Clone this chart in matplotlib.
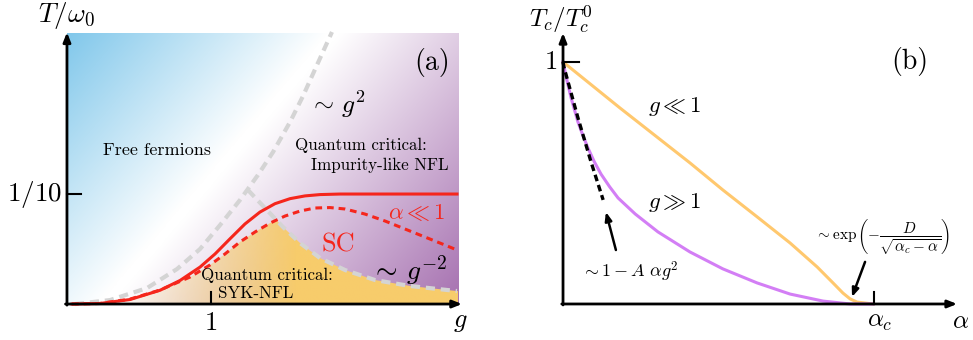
import numpy as np
import matplotlib.pyplot as plt
from matplotlib.patches import Polygon

plt.rcParams['mathtext.fontset'] = 'cm'
plt.rcParams['font.family'] = 'serif'
plt.rcParams['font.serif'] = ['cmr10']
plt.rcParams['axes.unicode_minus'] = False

# --- panel (a): phase diagram in the (g, T/w0) plane ---
g_sq = [0.056, 0.299, 0.556, 0.764, 0.924, 1.063, 1.201, 1.326, 1.431, 1.549, 1.639, 1.736, 1.840]
T_sq = [0.000, 0.0036, 0.0145, 0.0318, 0.050, 0.0718, 0.0945, 0.1173, 0.1382, 0.1655, 0.1891,
        0.2173, 0.2473]

g_inv = [1.257, 1.375, 1.500, 1.618, 1.757, 1.931, 2.139, 2.382, 2.708]
T_inv = [0.1036, 0.0873, 0.070, 0.0555, 0.0418, 0.0309, 0.0218, 0.0164, 0.0118]

g_sc = [0.035, 0.229, 0.438, 0.646, 0.785, 0.924, 1.028, 1.132, 1.236, 1.340, 1.444, 1.549,
        1.653, 1.757, 1.896, 2.708]
T_sc = [0.000, 0.0005, 0.0041, 0.0125, 0.0214, 0.0336, 0.0455, 0.0593, 0.0728, 0.0836, 0.0912,
        0.0958, 0.0983, 0.0995, 0.100, 0.100]

g_sc_small = [0.035, 0.229, 0.438, 0.646, 0.854, 0.993, 1.097, 1.201, 1.306, 1.410, 1.514,
              1.618, 1.722, 1.826, 1.931, 2.069, 2.208, 2.347, 2.486, 2.625, 2.701]
T_sc_small = [0.000, 0.0005, 0.0045, 0.0127, 0.0245, 0.0355, 0.0455, 0.0564, 0.0655, 0.0736,
              0.080, 0.0845, 0.0873, 0.0877, 0.0864, 0.0818, 0.0755, 0.0682, 0.0609, 0.0536,
              0.0495]

# --- panel (b): Tc suppression vs alpha (alpha in units of alpha_c) ---
a_weak = [0.0, 0.183, 0.408, 0.514, 0.624, 0.730, 0.817, 0.868, 0.900, 0.923, 0.945, 0.997]
Tc_weak = [1.0, 0.810, 0.583, 0.471, 0.360, 0.252, 0.153, 0.087, 0.045, 0.021, 0.008, 0.0]

a_strong = [0.0, 0.013, 0.026, 0.048, 0.064, 0.080, 0.100, 0.122, 0.150, 0.177, 0.232, 0.305,
            0.408, 0.514, 0.624, 0.730, 0.836, 0.923, 0.997]
Tc_strong = [1.0, 0.922, 0.851, 0.752, 0.696, 0.645, 0.589, 0.537, 0.484, 0.438, 0.372, 0.298,
             0.215, 0.145, 0.087, 0.041, 0.012, 0.0, 0.0]

a_lin = [0.0, 0.003, 0.048, 0.090, 0.129]
Tc_lin = [1.0, 0.979, 0.769, 0.587, 0.430]

red = '#f5261c'
grey = '#d4d4d4'

fig = plt.figure(figsize=(9.73, 3.40), dpi=100)
ax = fig.add_axes([0, 0, 0.5, 1])
ax.set_xlim(-0.465, 2.913)
ax.set_ylim(-0.0327, 0.2764)
ax.axis('off')

# background: blue on the free-fermion side, purple on the impurity side
gmax, Tmax = 2.715, 0.2455
gg, TT = np.meshgrid(np.linspace(0, gmax, 400), np.linspace(0, Tmax, 300))
px = 67 + 144 * gg
py = 304 - 1100 * TT
d = (272 * (px - 105) + 230 * (py - 304)) / np.hypot(272, 230)
blue = np.array([0.50, 0.78, 0.92])
purple = np.array([0.65, 0.44, 0.69])
wb = np.clip((-d - 5) / 200, 0, 1)[..., None]
wp = np.clip((d - 5) / 265, 0, 1)[..., None]
img = 1 - wb * (1 - blue) - wp * (1 - purple)
ax.imshow(np.clip(img, 0, 1), extent=[0, gmax, 0, Tmax], origin='lower',
          aspect='auto', zorder=0, interpolation='bilinear')

# SYK-NFL region below the SC dome / g^-2 crossover, fading to the left
gf = np.linspace(0, gmax, 300)
upper = np.minimum(np.interp(gf, g_sc_small, T_sc_small),
                   np.interp(gf, g_inv, T_inv, left=np.inf))
poly = Polygon(np.column_stack([np.r_[gf, gmax, 0], np.r_[upper, 0, 0]]),
               closed=True, facecolor='none', edgecolor='none')
ax.add_patch(poly)
yellow = np.array([0.97, 0.80, 0.42])
wy = np.clip((px - 105) / 190, 0, 1)[..., None] ** 1.2
yimg = np.concatenate([np.broadcast_to(yellow, wy.shape[:2] + (3,)), wy], axis=2)
im = ax.imshow(yimg, extent=[0, gmax, 0, Tmax], origin='lower', aspect='auto',
               zorder=1, interpolation='bilinear')
im.set_clip_path(poly)

ax.plot(g_sq, T_sq, color=grey, lw=3, ls=(0, (2.2, 1.4)), zorder=2)
ax.plot(g_inv, T_inv, color=grey, lw=3, ls=(0, (2.2, 1.4)), zorder=2)
ax.plot(g_sc_small, T_sc_small, color=red, lw=2.2, ls=(0, (2.2, 1.6)), zorder=3)
ax.plot(g_sc, T_sc, color=red, lw=2.2, zorder=3, solid_joinstyle='round')

# axes with arrow heads
arr = dict(arrowstyle='-|>,head_length=0.55,head_width=0.22', lw=2, color='k',
           shrinkA=0, shrinkB=0)
ax.annotate('', xy=(2.743, 0), xytext=(-0.01, 0), arrowprops=arr, zorder=5)
ax.annotate('', xy=(0, 0.247), xytext=(0, -0.001), arrowprops=arr, zorder=5)
ax.plot([0, 0.1], [0.1, 0.1], color='k', lw=1.5, zorder=5)
ax.plot([1, 1], [0, 0.011], color='k', lw=1.5, zorder=5)

ax.text(0, 0.262, r'$T/\omega_0$', fontsize=19.5, ha='center', va='center')
ax.text(-0.035, 0.1, r'$1/10$', fontsize=19.5, ha='right', va='center')
ax.text(1.0, -0.0175, r'$1$', fontsize=19, ha='center', va='center')
ax.text(2.73, -0.0165, r'$g$', fontsize=19, ha='center', va='center')
ax.text(2.535, 0.22, '(a)', fontsize=20, ha='center', va='center')
ax.text(1.875, 0.182, r'$\sim\,g^2$', fontsize=18.5, ha='center', va='center')
ax.text(0.625, 0.14, 'Free fermions', fontsize=13, ha='center', va='center')
ax.text(2.042, 0.1445, 'Quantum critical:', fontsize=12.2, ha='center', va='center')
ax.text(2.174, 0.1264, 'Impurity-like NFL', fontsize=12.2, ha='center', va='center')
ax.text(2.43, 0.0835, r'$\alpha \ll 1$', fontsize=16.5, color=red, ha='center', va='center')
ax.text(1.882, 0.0536, 'SC', fontsize=19, color=red, ha='center', va='center')
ax.text(2.375, 0.031, r'$\sim\,g^{-2}$', fontsize=20, ha='center', va='center')
ax.text(1.389, 0.0264, 'Quantum critical:', fontsize=12.2, ha='center', va='center')
ax.text(1.31, 0.0095, 'SYK-NFL', fontsize=12.2, ha='center', va='center')

# --- panel (b) ---
bx = fig.add_axes([0.5, 0, 0.5, 1])
bx.set_xlim(-0.246, 1.318)
bx.set_ylim(-0.1488, 1.256)
bx.axis('off')

bx.plot(a_weak, Tc_weak, color='#ffc86e', lw=2.2, zorder=3)
bx.plot(a_strong, Tc_strong, color='#d37ef5', lw=2.2, zorder=3, solid_joinstyle='round')
bx.plot(a_lin, Tc_lin, color='k', lw=2.4, ls=(0, (2.0, 1.2)), zorder=4)

bx.annotate('', xy=(1.267, 0), xytext=(-0.004, 0), arrowprops=arr, zorder=5)
bx.annotate('', xy=(0, 1.12), xytext=(0, -0.004), arrowprops=arr, zorder=5)
bx.plot([0, 0.052], [1, 1], color='k', lw=1.5, zorder=5)
bx.plot([1, 1], [0, 0.05], color='k', lw=1.5, zorder=5)

thin = dict(arrowstyle='-|>,head_length=0.5,head_width=0.2', lw=1.8, color='k',
            shrinkA=0, shrinkB=0)
bx.annotate('', xy=(0.138, 0.380), xytext=(0.170, 0.223), arrowprops=thin)
bx.annotate('', xy=(0.929, 0.029), xytext=(0.971, 0.174), arrowprops=thin)

bx.text(-0.006, 1.174, r'$T_c/T_c^0$', fontsize=18, ha='center', va='center')
bx.text(-0.019, 1.0, r'$1$', fontsize=19, ha='right', va='center')
bx.text(1.116, 1.0, '(b)', fontsize=20, ha='center', va='center')
bx.text(0.360, 0.814, r'$g \ll 1$', fontsize=16.5, ha='center', va='center')
bx.text(0.360, 0.421, r'$g \gg 1$', fontsize=16.5, ha='center', va='center')
bx.text(0.215, 0.132, r'$\sim 1 - A\ \alpha g^2$', fontsize=13, ha='center', va='center')
bx.text(1.026, 0.277, r'$\sim \exp\left(-\dfrac{D}{\sqrt{\alpha_c-\alpha}}\right)$',
        fontsize=11, ha='center', va='center')
bx.text(1.019, -0.074, r'$\alpha_c$', fontsize=18, ha='center', va='center')
bx.text(1.277, -0.074, r'$\alpha$', fontsize=18, ha='center', va='center')

fig.savefig('out.png', dpi=100)
